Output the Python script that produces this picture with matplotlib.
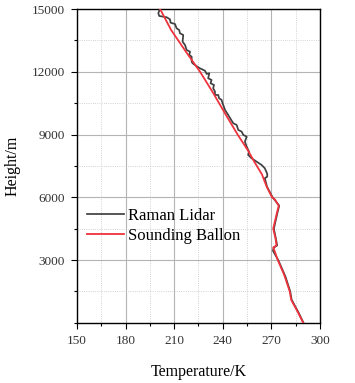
import numpy as np
import matplotlib
matplotlib.use('Agg')
import matplotlib.pyplot as plt
from matplotlib.ticker import MultipleLocator

plt.rcParams['font.family'] = ['Liberation Serif', 'DejaVu Serif']

# Sounding balloon profile (height m, temperature K)
ballon_h = [0, 500, 1100, 1500, 2200, 2400, 3000, 3400, 3600, 3700, 4000, 4500,
            5200, 5600, 5900, 6000, 6500, 7100, 7700, 8200, 9000, 10000, 11000,
            12000, 13000, 14000, 15000]
ballon_t = [289.7, 286.5, 282.3, 281.4, 278.4, 277.4, 274.0, 272.2, 271.2, 273.2, 272.7, 271.2,
            273.3, 274.6, 272.2, 270.5, 267.2, 264.2, 259.5, 255.9, 249.2, 241.5, 234.0,
            226.0, 216.9, 208.1, 201.3]

# Raman lidar profile
lidar_h = [15000, 14795, 14666, 14604, 14508, 14346, 14284, 14078, 13997, 13839,
           13758, 13438, 13280, 13042, 12960, 12803, 12722, 12483, 12406, 12244,
           12167, 12053, 11895, 11929, 11690, 11608, 11451, 11370, 11212, 11050,
           10892, 10892, 10734, 10653, 10496, 10333, 10175, 9936, 9855, 9540,
           9459, 9220, 9139, 8981, 8900, 8661, 8422, 8183, 8026, 7868,
           7706, 7548, 7390, 7118, 6989, 6912, 6500, 6000,
           5600, 5200, 4500, 4000, 3700, 3600, 3450, 3000, 2400, 2200,
           1500, 1100, 500, 0]
lidar_t = [201.2, 200.2, 200.8, 205.4, 207.4, 207.8, 210.5, 211.5, 213.1, 213.6,
           215.6, 215.2, 216.7, 217.7, 219.8, 219.3, 220.8, 220.8, 221.4, 224.3,
           225.9, 229.0, 230.1, 231.7, 231.0, 233.1, 232.5, 234.6, 234.1, 235.2,
           235.2, 237.2, 237.8, 239.3, 239.9, 240.7, 241.4, 243.4, 244.0, 246.5,
           248.6, 249.6, 251.7, 252.7, 254.8, 253.7, 254.8, 256.2, 255.7, 257.8,
           260.9, 264.0, 266.0, 267.5, 267.5, 266.0, 267.4, 270.8,
           274.9, 273.6, 271.6, 272.9, 273.6, 271.6, 271.0, 274.3, 277.7, 278.8,
           281.7, 282.6, 286.8, 289.9]

fig = plt.figure(figsize=(3.55, 3.83), dpi=100)
ax = fig.add_axes([0.217, 0.157, 0.684, 0.8195])

ax.plot(lidar_t, lidar_h, color='#404040', lw=1.25, label='Raman Lidar', zorder=3)
ax.plot(ballon_t, ballon_h, color='#f0323c', lw=1.3, label='Sounding Ballon', zorder=4)

ax.set_xlim(150, 300)
ax.set_ylim(0, 15000)
ax.xaxis.set_major_locator(MultipleLocator(30))
ax.xaxis.set_minor_locator(MultipleLocator(15))
ax.set_yticks([3000, 6000, 9000, 12000, 15000])
ax.yaxis.set_minor_locator(MultipleLocator(1500))

ax.grid(which='major', color='#b4b4b4', lw=0.8, ls='-')
ax.grid(which='minor', color='#c4c4c4', lw=0.6, ls=':')
ax.set_axisbelow(True)

ax.tick_params(which='major', direction='out', length=4, width=0.8, pad=4.5,
               labelsize=9.5, labelcolor='#333333')
ax.tick_params(which='minor', direction='out', length=2.5, width=0.8)
for s in ax.spines.values():
    s.set_linewidth(1.0)

ax.set_xlabel('Temperature/K', fontsize=11.5, labelpad=12.5)
ax.set_ylabel('Height/m', fontsize=11.5, labelpad=8)

ax.legend(loc='center left', bbox_to_anchor=(0.0, 0.309), frameon=False,
          fontsize=12, handlelength=2.2, handletextpad=0.25, labelspacing=0.27,
          borderaxespad=0, borderpad=0.6)

fig.savefig('out.png', dpi=100)
